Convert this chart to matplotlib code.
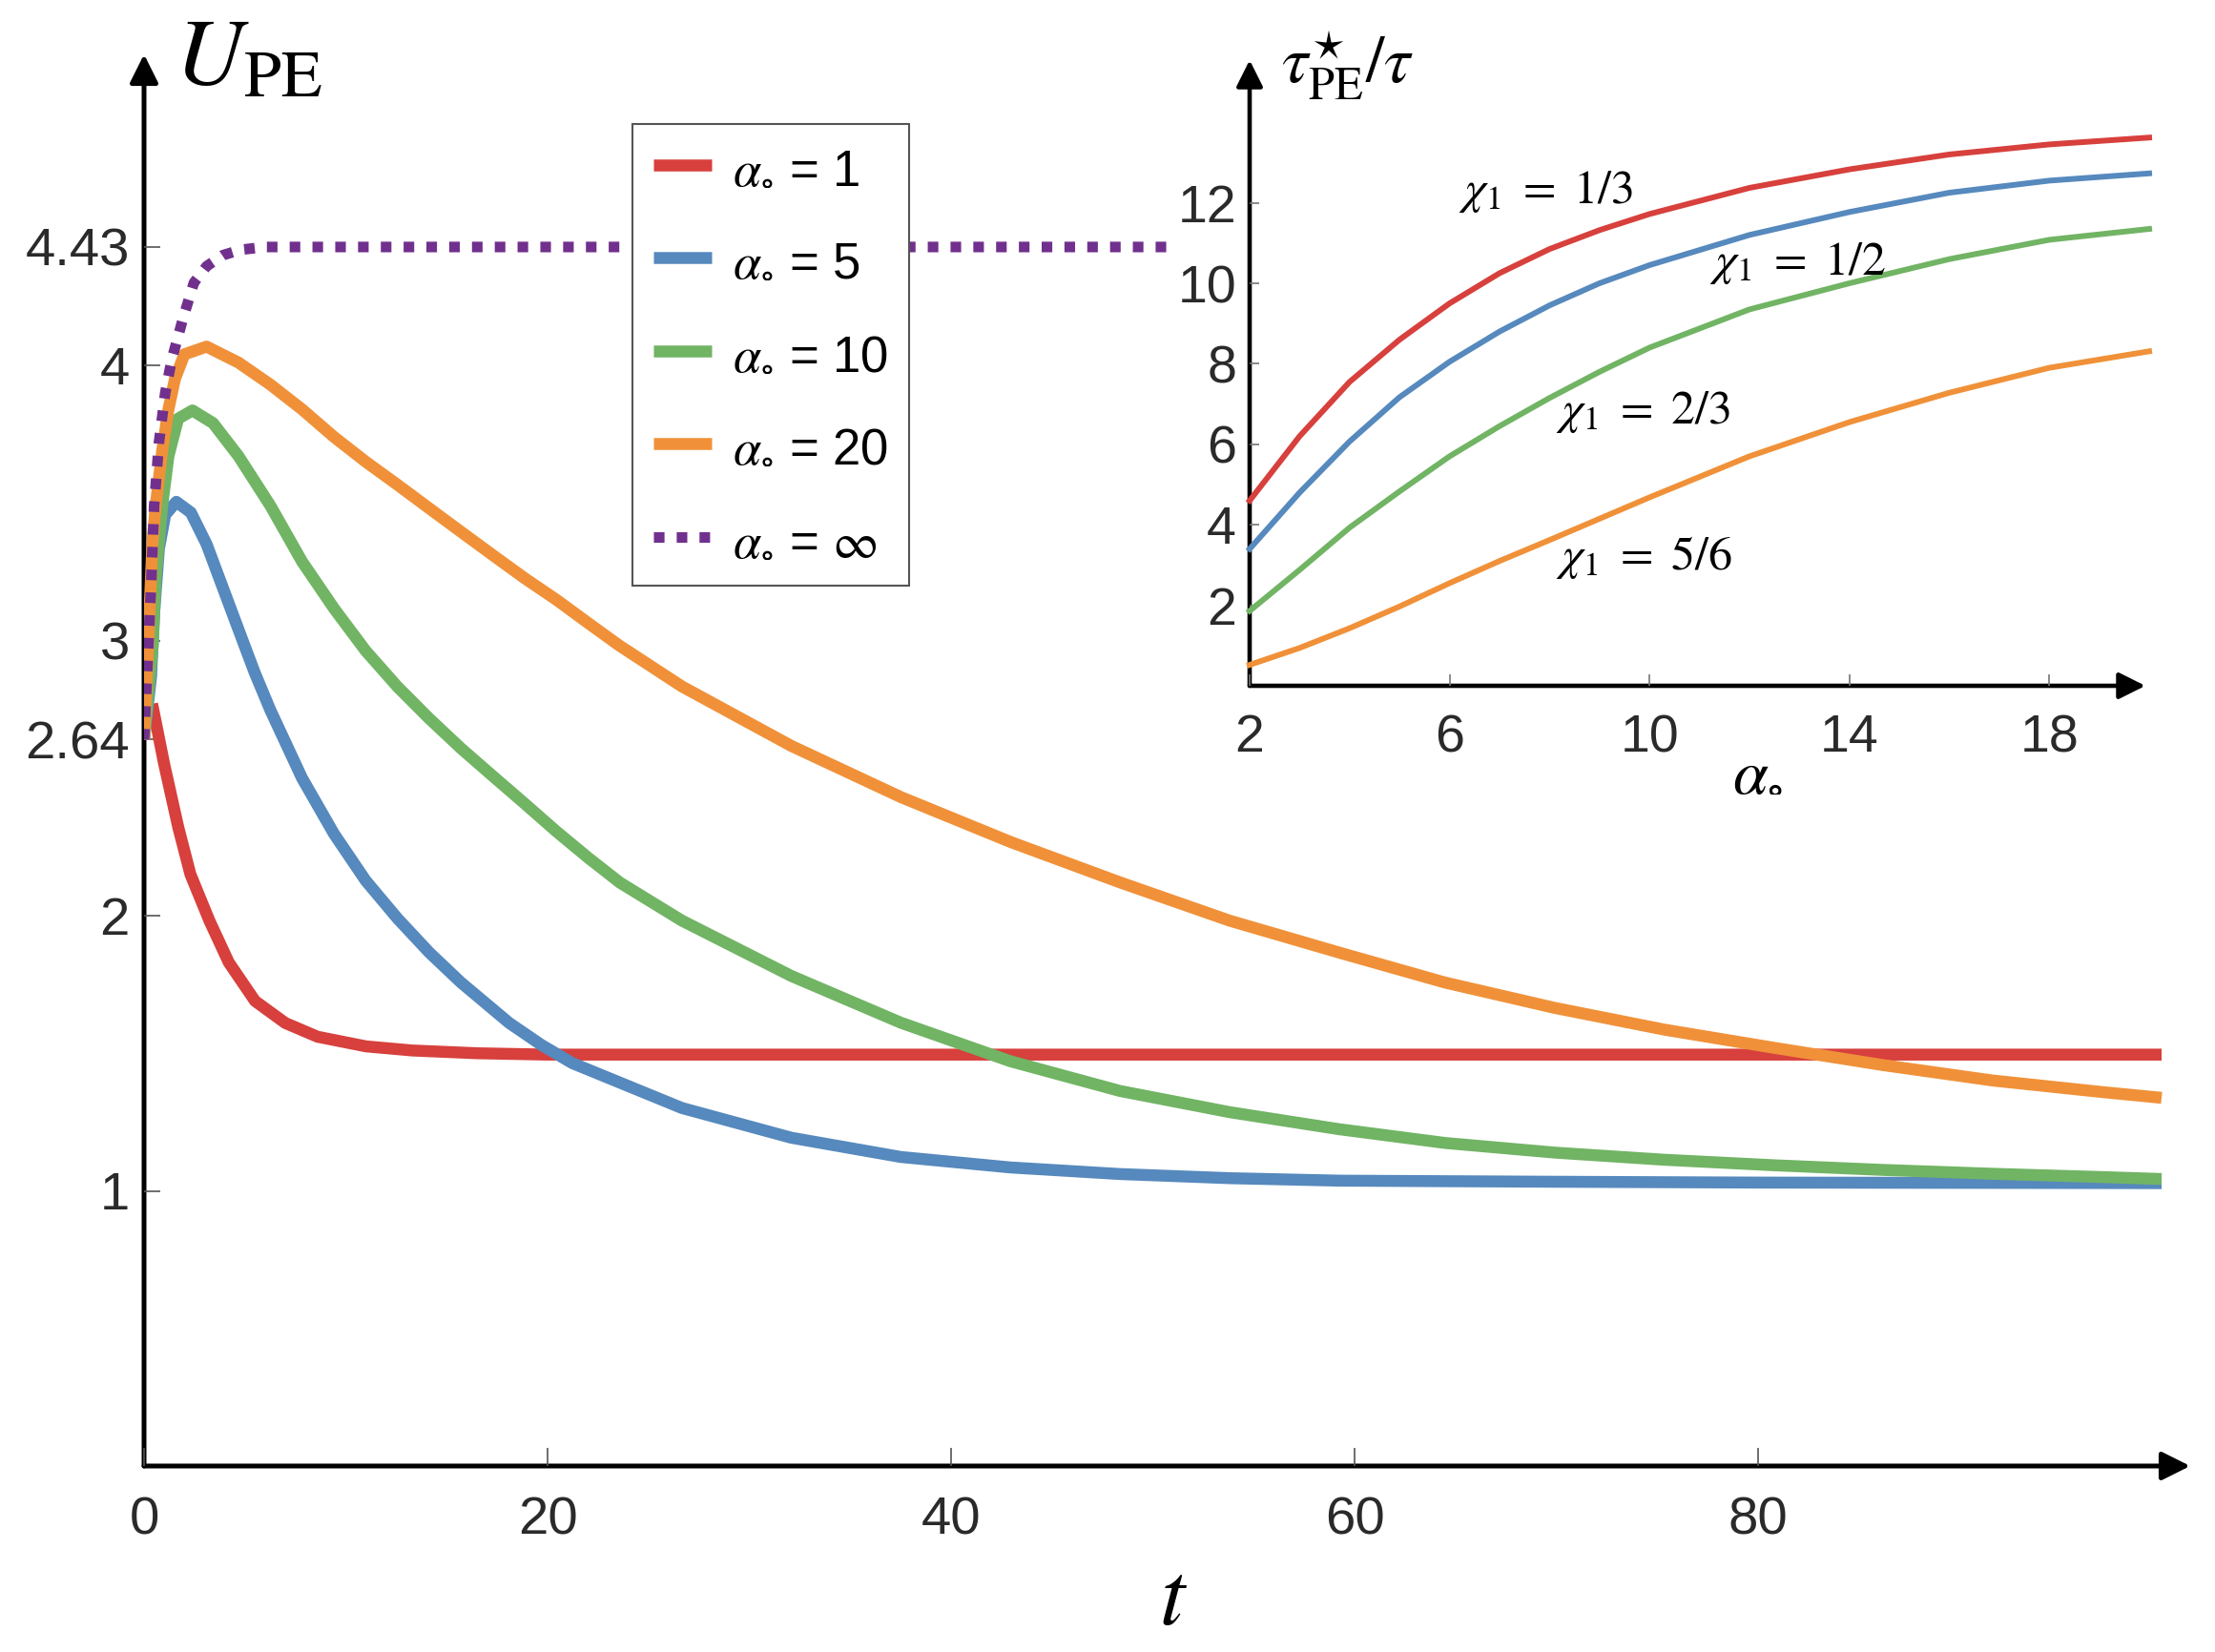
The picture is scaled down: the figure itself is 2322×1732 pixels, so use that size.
import matplotlib
matplotlib.use("Agg")
import matplotlib.pyplot as plt
from matplotlib.patches import Rectangle

plt.rcParams['mathtext.fontset'] = 'stix'
plt.rcParams['font.family'] = ['Liberation Sans', 'DejaVu Sans']

# ---------------- main panel data ----------------
t_a1 = [0.4, 1.0, 1.7, 2.3, 3.25, 4.2, 5.5, 7.0, 8.6, 11.0, 13.3, 16.5, 20, 100]
u_a1 = [2.77, 2.55, 2.32, 2.15, 1.98, 1.83, 1.69, 1.61, 1.56, 1.525, 1.51, 1.50, 1.495, 1.495]

t_a5 = [0, 0.35, 0.5, 0.74, 1.05, 1.6, 2.32, 3.1, 3.89, 4.68, 5.47, 6.26, 7.83, 9.41, 10.98,
        12.56, 14.14, 15.71, 18.1, 19.7, 21.23, 26.66, 32.08, 37.51, 42.94, 48.37, 53.8, 59.23,
        70, 80, 100]
u_a5 = [2.64, 2.87, 3.10, 3.334, 3.457, 3.504, 3.465, 3.35, 3.195, 3.04, 2.886, 2.747, 2.50, 2.298, 2.128,
        1.99, 1.866, 1.757, 1.61, 1.53, 1.464, 1.301, 1.193, 1.123, 1.085, 1.061, 1.046, 1.037,
        1.033, 1.03, 1.028]

t_a10 = [0, 0.43, 0.58, 0.9, 1.21, 1.69, 2.4, 3.42, 4.68, 6.26, 7.83, 9.41, 10.98, 12.56, 14.14,
         15.71, 17.29, 18.87, 20.44, 22.02, 23.59, 26.66, 32.08, 37.51, 42.94, 48.37, 53.8, 59.23,
         64.48, 69.91, 75.34, 80.77, 86.19, 91.62, 97.05, 100]
u_a10 = [2.64, 2.98, 3.23, 3.49, 3.67, 3.806, 3.836, 3.79, 3.67, 3.49, 3.287, 3.117, 2.963, 2.832, 2.716,
         2.608, 2.507, 2.407, 2.306, 2.21, 2.12, 1.982, 1.781, 1.611, 1.471, 1.363, 1.286, 1.224,
         1.174, 1.139, 1.113, 1.093, 1.076, 1.062, 1.05, 1.043]

t_a20 = [0, 0.42, 0.58, 0.9, 1.21, 1.53, 2.0, 3.1, 4.68, 6.26, 7.83, 9.41, 10.98, 12.56, 14.14,
         15.71, 17.29, 18.87, 20.44, 22.02, 23.59, 26.66, 32.08, 37.51, 42.94, 48.37, 53.8, 59.23,
         64.48, 69.91, 75.34, 80.77, 86.19, 91.62, 97.05, 100]
u_a20 = [2.64, 3.36, 3.49, 3.69, 3.84, 3.95, 4.04, 4.068, 4.01, 3.93, 3.84, 3.74, 3.65, 3.566, 3.48,
         3.395, 3.31, 3.226, 3.148, 3.063, 2.98, 2.833, 2.617, 2.431, 2.268, 2.121, 1.982, 1.866,
         1.757, 1.665, 1.586, 1.52, 1.457, 1.401, 1.359, 1.338]

t_inf = [0, 0.35, 0.5, 0.74, 1.05, 1.37, 1.93, 2.47, 3.1, 3.9, 4.8, 6.0, 100]
u_inf = [2.64, 3.2, 3.49, 3.72, 3.9, 4.02, 4.17, 4.30, 4.36, 4.40, 4.42, 4.43, 4.43]

main_xticks = [0, 20, 40, 60, 80]
main_yticks = [1, 2, 2.64, 3, 4, 4.43]
main_ytick_labels = ['1', '2', '2.64', '3', '4', '4.43']
legend_labels = [r'$\alpha_{\circ}$ = 1', r'$\alpha_{\circ}$ = 5', r'$\alpha_{\circ}$ = 10',
                 r'$\alpha_{\circ}$ = 20', r'$\alpha_{\circ}$ = $\infty$']

# ---------------- inset data ----------------
alpha_vals = [2, 3, 4, 5, 6, 7, 8, 9, 10, 12, 14, 16, 18, 20]
tau_chi13 = [4.6, 6.2, 7.55, 8.6, 9.5, 10.25, 10.85, 11.32, 11.72, 12.37, 12.83, 13.2, 13.45, 13.62]
tau_chi12 = [3.4, 4.8, 6.07, 7.17, 8.05, 8.8, 9.45, 10.0, 10.45, 11.2, 11.77, 12.25, 12.55, 12.73]
tau_chi23 = [1.86, 2.88, 3.93, 4.83, 5.7, 6.45, 7.15, 7.8, 8.4, 9.35, 10.0, 10.6, 11.08, 11.35]
tau_chi56 = [0.52, 0.94, 1.43, 1.97, 2.55, 3.1, 3.62, 4.15, 4.68, 5.7, 6.55, 7.28, 7.9, 8.31]
inset_xticks = [2, 6, 10, 14, 18]
inset_yticks = [2, 4, 6, 8, 10, 12]
inset_labels = [r'$\chi_1\ =\ 1/3$', r'$\chi_1\ =\ 1/2$', r'$\chi_1\ =\ 2/3$', r'$\chi_1\ =\ 5/6$']

RED, BLUE, GREEN, ORANGE, PURPLE = '#d7403c', '#5689bd', '#71b464', '#f09139', '#71308d'
TICKC = '#2a2a2a'

W, H = 2322, 1732
fig = plt.figure(figsize=(W / 100, H / 100), dpi=100)
fx = lambda px: px / W
fy = lambda py: 1 - py / H

# ---------------- main axes ----------------
ax = fig.add_axes([fx(151), fy(1537), (2296 - 151) / W, (1537 - 57) / H])
ax.set_xlim(0, (2296 - 151) / 21.15)
ax.set_ylim(0, (1537 - 57) / 288.5)
for s in ax.spines.values():
    s.set_visible(False)

lw_main = 9.0
style = dict(lw=lw_main, solid_capstyle='butt', solid_joinstyle='round')
l1, = ax.plot(t_a1, u_a1, color=RED, **style)
l2, = ax.plot(t_a5, u_a5, color=BLUE, **style)
l3, = ax.plot(t_a10, u_a10, color=GREEN, **style)
l4, = ax.plot(t_a20, u_a20, color=ORANGE, **style)
l5, = ax.plot(t_inf, u_inf, color=PURPLE, lw=8.0, linestyle=(0, (1.0, 1.15)), dash_capstyle='butt')

ax.set_xticks(main_xticks)
ax.set_xticklabels([str(v) for v in main_xticks])
ax.set_yticks(main_yticks)
ax.set_yticklabels(main_ytick_labels)
ax.tick_params(axis='both', direction='in', color='#555555', width=1.2, labelcolor=TICKC,
               labelsize=40.5)
ax.tick_params(axis='x', length=14, pad=23)
ax.tick_params(axis='y', length=12, pad=11)

arrow_kw = dict(arrowstyle='-|>', color='k', lw=3.6, shrinkA=0, shrinkB=0, mutation_scale=45)
ax.annotate('', xy=(1, 0), xytext=(0, 0), xycoords='axes fraction', arrowprops=arrow_kw, zorder=1.5)
ax.annotate('', xy=(0, 1), xytext=(0, 0), xycoords='axes fraction', arrowprops=arrow_kw, zorder=1.5)

leg = ax.legend([l1, l2, l3, l4, l5], legend_labels, loc='upper left',
                bbox_to_anchor=(fx(663), fy(130)), bbox_transform=fig.transFigure,
                prop={'family': ['Liberation Sans', 'DejaVu Sans'], 'size': 38},
                handlelength=1.15, handletextpad=0.42, labelspacing=0.9, borderpad=0.42,
                borderaxespad=0, frameon=True, fancybox=False, edgecolor='#555555',
                framealpha=1)
leg.get_frame().set_linewidth(1.5)

fig.text(fx(183), fy(89), r'$U_{\mathrm{PE}}$', fontsize=72, va='baseline', ha='left')
fig.text(fx(1230), fy(1703), r'$t$', fontsize=68, va='baseline', ha='center')

# white panel behind the inset (covers the main plot there)
fig.add_artist(Rectangle((fx(1228), fy(880)), 1 - fx(1228), 880 / H, transform=fig.transFigure,
                         facecolor='white', edgecolor='none', zorder=1))

# ---------------- inset axes ----------------
ax2 = fig.add_axes([fx(1310), fy(719), (2253 - 1310) / W, (719 - 63) / H], zorder=2)
ax2.patch.set_alpha(0)
ax2.set_xlim(2, 20)
ax2.set_ylim(0, (719 - 63) / 42.2)
for s in ax2.spines.values():
    s.set_visible(False)

lw_in = 4.3
ax2.plot(alpha_vals, tau_chi13, color=RED, lw=lw_in, clip_on=False, solid_joinstyle='round')
ax2.plot(alpha_vals, tau_chi12, color=BLUE, lw=lw_in, clip_on=False, solid_joinstyle='round')
ax2.plot(alpha_vals, tau_chi23, color=GREEN, lw=lw_in, clip_on=False, solid_joinstyle='round')
ax2.plot(alpha_vals, tau_chi56, color=ORANGE, lw=lw_in, clip_on=False, solid_joinstyle='round')

ax2.set_xticks(inset_xticks)
ax2.set_xticklabels([str(v) for v in inset_xticks])
ax2.set_yticks(inset_yticks)
ax2.set_yticklabels([str(v) for v in inset_yticks])
ax2.tick_params(axis='both', direction='in', color='#777777', width=1.2, labelcolor=TICKC,
                labelsize=40)
ax2.tick_params(axis='x', length=9, pad=21)
ax2.tick_params(axis='y', length=7, pad=10)

arrow_kw2 = dict(arrowstyle='-|>', color='k', lw=3.3, shrinkA=0, shrinkB=0, mutation_scale=42)
ax2.annotate('', xy=((2249 - 1310) / (2253 - 1310), 0), xytext=(0, 0), xycoords='axes fraction',
             arrowprops=arrow_kw2, zorder=1.5)
ax2.annotate('', xy=(0, 1), xytext=(0, 0), xycoords='axes fraction', arrowprops=arrow_kw2, zorder=1.5)

label_pos = [(1529, 213), (1792, 288), (1631, 444), (1631, 597)]
for txt, (px, py) in zip(inset_labels, label_pos):
    fig.text(fx(px), fy(py), txt, fontsize=36, va='baseline', ha='left', zorder=3)

fig.text(fx(1343), fy(86), r'$\tau^{\star}_{\mathrm{PE}}/\tau$', fontsize=50, va='baseline', ha='left', zorder=3)
fig.text(fx(1816), fy(827), r'$\alpha_{\circ}$', fontsize=48, va='baseline', ha='left', zorder=3)

fig.savefig('out.png', dpi=100, facecolor='white')
